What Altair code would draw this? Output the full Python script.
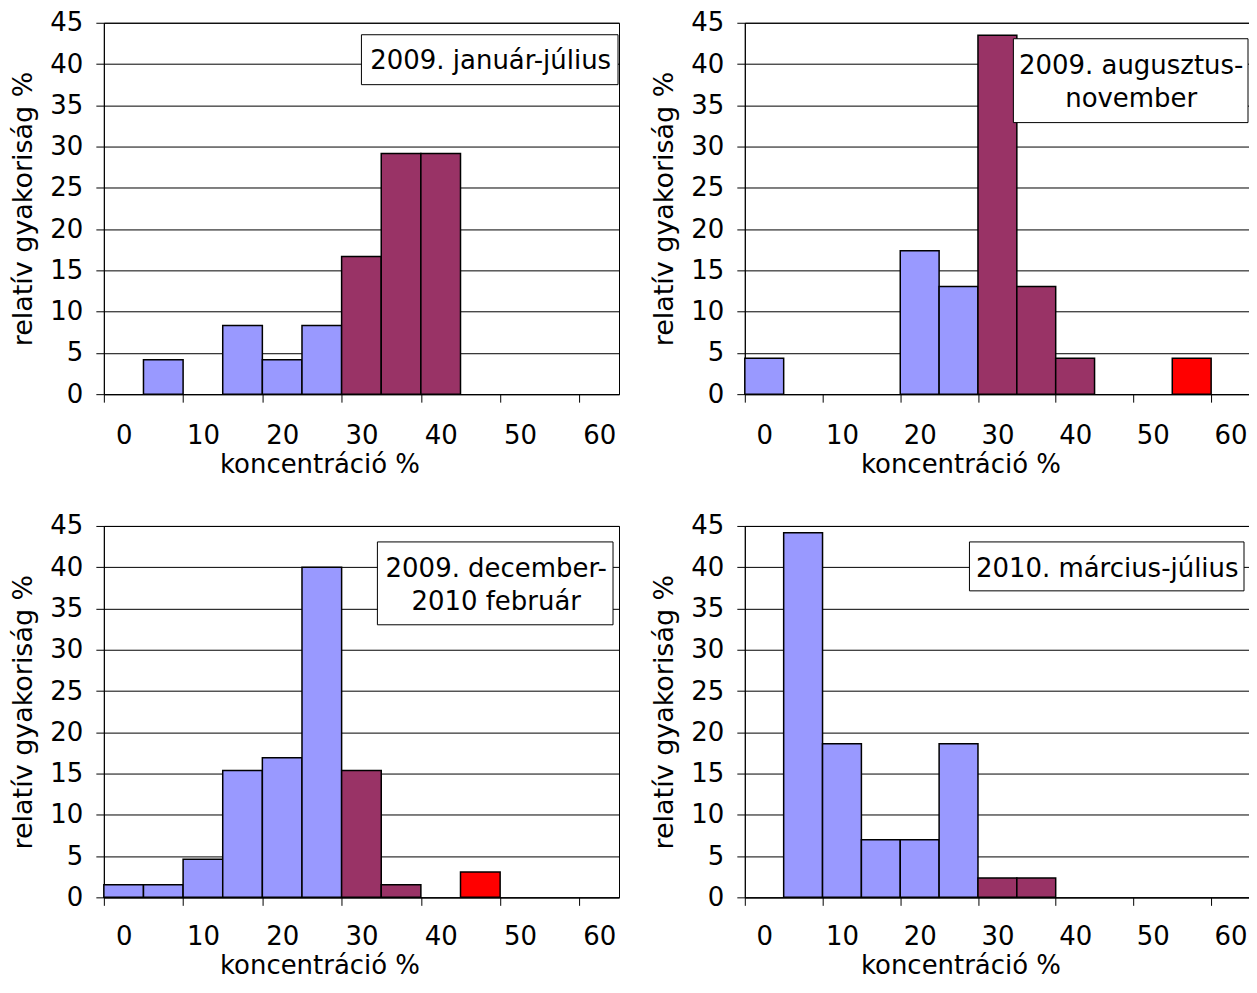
import altair as alt
import pandas as pd

# --- adatok ---------------------------------------------------------------
kategoriak = [0, 5, 10, 15, 20, 25, 30, 35, 40, 45, 50, 55, 60]

x_osztasok = [-2.5, 7.5, 17.5, 27.5, 37.5, 47.5, 57.5]
y_osztasok = [0, 5, 10, 15, 20, 25, 30, 35, 40, 45]

cim_1 = "2009. január-július"
ertek_1 = [0, 4.17, 0, 8.33, 4.17, 8.33, 16.67, 29.17, 29.17, 0, 0, 0, 0]
szin_1 = ["kek", "kek", "kek", "kek", "kek", "kek", "bordo", "bordo", "bordo",
          "kek", "kek", "kek", "kek"]

cim_2 = "2009. augusztus-\nnovember"
ertek_2 = [4.35, 0, 0, 0, 17.39, 13.04, 43.48, 13.04, 4.35, 0, 0, 4.35, 0]
szin_2 = ["kek", "kek", "kek", "kek", "kek", "kek", "bordo", "bordo", "bordo",
          "bordo", "bordo", "piros", "piros"]

cim_3 = "2009. december-\n2010 február"
ertek_3 = [1.54, 1.54, 4.62, 15.38, 16.92, 40.0, 15.38, 1.54, 0, 3.08, 0, 0, 0]
szin_3 = ["kek", "kek", "kek", "kek", "kek", "kek", "bordo", "bordo", "bordo",
          "piros", "piros", "piros", "piros"]

cim_4 = "2010. március-július"
ertek_4 = [0, 44.19, 18.60, 6.98, 6.98, 18.60, 2.33, 2.33, 0, 0, 0, 0, 0]
szin_4 = ["kek", "kek", "kek", "kek", "kek", "kek", "bordo", "bordo", "bordo",
          "bordo", "bordo", "bordo", "bordo"]

szin_nevek = ["kek", "bordo", "piros"]
szin_kodok = ["#9999FF", "#993366", "#FF0000"]

# --- megjelenes -----------------------------------------------------------
W_BAL, W_JOBB, H = 516, 506, 372
FONT = "DejaVu Sans"
FS = 26


def panel(ertek, szin, cim, doboz, szoveg, w, lpad, tpad):
    unit_px = w / 65.0
    df = pd.DataFrame({"koncentracio": kategoriak, "gyakorisag": ertek, "osztaly": szin})
    base = alt.Chart(df).transform_filter("datum.gyakorisag > 0").transform_calculate(
        bal="datum.koncentracio - 2.5", jobb="datum.koncentracio + 2.5"
    )
    bars = base.mark_bar(stroke="black", strokeWidth=1.5).encode(
        x=alt.X(
            "bal:Q",
            scale=alt.Scale(domain=[-2.5, 62.5], nice=False, zero=False),
            axis=alt.Axis(
                values=x_osztasok,
                labelExpr="format(datum.value + 2.5, 'd')",
                labelOffset=2.5 * unit_px,
                title="koncentráció %",
                titleX=216,
                grid=False,
                labelFlush=False,
                labelOverlap=False,
                labelPadding=lpad,
                titlePadding=tpad,
                labelAngle=0,
            ),
        ),
        x2="jobb:Q",
        y=alt.Y(
            "gyakorisag:Q",
            scale=alt.Scale(domain=[0, 45], nice=False),
            axis=alt.Axis(
                values=y_osztasok,
                title="relatív gyakoriság %",
                titleFontSize=27,
                grid=True,
                labelPadding=13,
                titlePadding=12,
                labelOverlap=False,
            ),
        ),
        y2=alt.datum(0),
        color=alt.Color(
            "osztaly:N",
            scale=alt.Scale(domain=szin_nevek, range=szin_kodok),
            legend=None,
        ),
    )
    fdf = pd.DataFrame({"felirat": [cim]})
    box = alt.Chart(fdf).mark_rect(fill="white", stroke="black", strokeWidth=1).encode(
        x=alt.value(doboz[0]), x2=alt.value(doboz[1]),
        y=alt.value(doboz[2]), y2=alt.value(doboz[3]),
    )
    txt = alt.Chart(fdf).mark_text(
        font=FONT, fontSize=FS, color="black", align="center",
        baseline="alphabetic", lineBreak="\n", lineHeight=33,
    ).encode(x=alt.value(szoveg[0]), y=alt.value(szoveg[1]), text="felirat:N")
    return alt.layer(bars, box, txt).properties(width=w, height=H)


p1 = panel(ertek_1, szin_1, cim_1, (258, 515, 12, 62), (387.5, 46), W_BAL, 20, 3)
p2 = panel(ertek_2, szin_2, cim_2, (269, 504, 16, 100), (387, 51), W_JOBB, 20, 3)
p3 = panel(ertek_3, szin_3, cim_3, (274, 510, 16, 99), (393, 51), W_BAL, 18, 3)
p4 = panel(ertek_4, szin_4, cim_4, (225, 500, 16, 65), (363, 51), W_JOBB, 18, 3)

chart = alt.vconcat(
    alt.hconcat(p1, p2, spacing=30),
    alt.hconcat(p3, p4, spacing=30),
    spacing=34,
).properties(
    padding={"left": 1, "top": 0, "right": -2, "bottom": 1},
    background="white",
).configure_view(
    stroke="black", strokeWidth=1
).configure_axis(
    domainColor="black", domainWidth=1,
    tickColor="black", tickSize=8, tickWidth=1,
    gridColor="black", gridWidth=1,
    labelFont=FONT, labelFontSize=FS, labelColor="black",
    titleFont=FONT, titleFontSize=FS, titleColor="black", titleFontWeight="normal",
)

chart.save("out.html", embed_options={"renderer": "svg", "actions": False})
